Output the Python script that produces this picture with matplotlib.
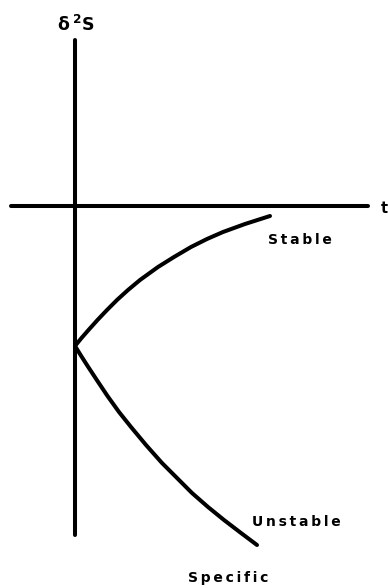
"""
Schematic of the second variation of entropy vs t (stable / unstable branches).

Output: out.png
"""
import matplotlib.pyplot as plt

# axis extents (data units, origin where the axes cross)
T_AXIS = [-64, 293]
S_AXIS = [166, -329]

# branches starting from the common vertex on the S axis
stable_t = [0, 6.5, 13.5, 22.5, 32, 42, 53, 65, 83, 99, 116, 132, 148, 170, 195]
stable_s = [-140, -132, -124, -114, -104, -94, -84, -74, -61, -51, -41, -33, -26, -18, -10]

unstable_t = [0, 6.2, 12.6, 21.8, 32.5, 44, 56, 71, 87, 102, 117, 133, 149, 166, 182]
unstable_s = [-140, -150, -160, -174, -190, -206, -221, -239, -257, -272, -287, -301, -314, -327, -339]


def spaced(s):
    # the original lettering is set with wide tracking
    return "\u2009".join(s)


def main() -> None:
    plt.rcParams["mathtext.fontset"] = "dejavusans"
    fig = plt.figure(figsize=(3.88, 5.88), dpi=100)
    fig.patch.set_facecolor("white")
    ax = fig.add_axes([0, 0, 1, 1])
    ax.axis("off")
    ax.set_xlim(-75, 313)
    ax.set_ylim(-382, 206)

    lw = 2.9
    line = dict(color="black", lw=lw, solid_capstyle="round", solid_joinstyle="round")
    ax.plot(T_AXIS, [0, 0], **line)
    ax.plot([0, 0], S_AXIS, **line)
    ax.plot(stable_t, stable_s, **line)
    ax.plot(unstable_t, unstable_s, **line)

    txt = dict(color="black", fontweight="bold", family="DejaVu Sans")
    ax.text(1, 181, "δ\u2009$^{\\mathbf{2}}$S", ha="center", va="center",
            fontsize=12.5, **txt)
    ax.text(306, -2, "t", ha="left", va="center", fontsize=10.5, **txt)
    ax.text(193, -34, spaced("Stable"), ha="left", va="center", fontsize=10, **txt)
    ax.text(177, -316, spaced("Unstable"), ha="left", va="center", fontsize=10, **txt)
    ax.text(153, -372, spaced("Specific"), ha="center", va="center", fontsize=10, **txt)

    fig.savefig("out.png", dpi=100, facecolor="white")
    plt.close(fig)


if __name__ == "__main__":
    main()
